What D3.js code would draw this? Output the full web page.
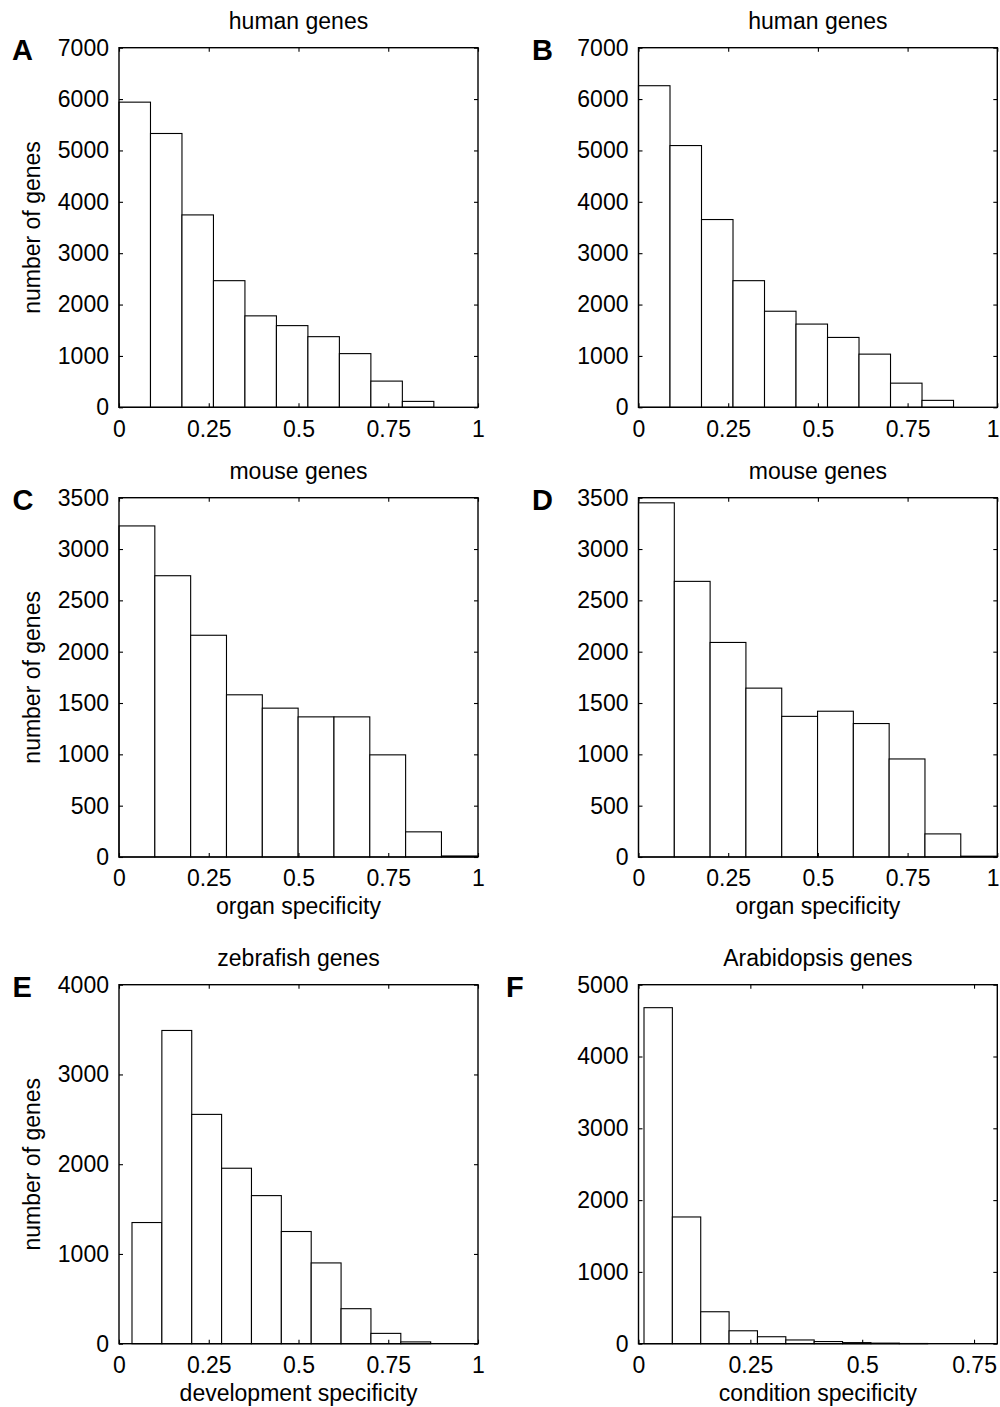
<!DOCTYPE html>
<html>
<head>
<meta charset="utf-8">
<script src="https://cdn.jsdelivr.net/npm/d3@7"></script>
<style>
  html, body { margin: 0; padding: 0; background: #fff; }
  svg text { font-family: "Liberation Sans", Arial, Helvetica, sans-serif; fill: #000; }
</style>
</head>
<body>
<svg id="chart" width="1000" height="1407"></svg>
<script>
// ---------------- data ----------------
const panelLetters = ["A", "B", "C", "D", "E", "F"];
const panelTitles = ["human genes", "human genes", "mouse genes", "mouse genes", "zebrafish genes", "Arabidopsis genes"];
const xAxisTitles = ["", "", "organ specificity", "organ specificity", "development specificity", "condition specificity"];
const yAxisTitles = ["number of genes", "", "number of genes", "", "number of genes", ""];

// histogram counts (10 bins each)
const countsA = [5940, 5330, 3745, 2465, 1780, 1590, 1375, 1045, 510, 115];
const countsB = [6260, 5095, 3655, 2465, 1870, 1620, 1360, 1035, 470, 135];
const countsC = [3225, 2740, 2160, 1580, 1450, 1365, 1365, 995, 245, 10];
const countsD = [3450, 2685, 2090, 1645, 1370, 1420, 1300, 955, 225, 8];
const countsE = [1350, 3490, 2555, 1955, 1650, 1250, 900, 390, 115, 20];
const countsF = [4680, 1765, 445, 180, 97, 52, 30, 15, 8, 3];

// first bin edge and bin width (specificity units)
const binStarts = [0, 0, 0, 0, 0.0362, 0.0123];
const binWidths = [0.0877, 0.0878, 0.0998, 0.0998, 0.0832, 0.0634];

// axis ranges and ticks
const xMaxes = [1, 1, 1, 1, 1, 0.802];
const yMaxes = [7000, 7000, 3500, 3500, 4000, 5000];
const xTicksMain = [0, 0.25, 0.5, 0.75, 1];
const xTicksF = [0, 0.25, 0.5, 0.75];
const yTicksHuman = [0, 1000, 2000, 3000, 4000, 5000, 6000, 7000];
const yTicksMouse = [0, 500, 1000, 1500, 2000, 2500, 3000, 3500];
const yTicksZebra = [0, 1000, 2000, 3000, 4000];
const yTicksArab = [0, 1000, 2000, 3000, 4000, 5000];

const allCounts = [countsA, countsB, countsC, countsD, countsE, countsF];
const allXTicks = [xTicksMain, xTicksMain, xTicksMain, xTicksMain, xTicksMain, xTicksF];
const allYTicks = [yTicksHuman, yTicksHuman, yTicksMouse, yTicksMouse, yTicksZebra, yTicksArab];

// ---------------- layout ----------------
const colX = [[119, 478], [638.5, 997.3]];
const rowY = [[47.7, 407.3], [497.7, 857], [984.7, 1343.7]];
const letterPos = [[12, 60], [532, 60], [12.5, 509.5], [532, 510], [12.5, 997], [506, 997]];
const FONT = 23;
const W = 1000;

const svg = d3.select("#chart");
const fmtX = d => d === 0 ? "0" : d === 1 ? "1" : String(d);

for (let p = 0; p < 6; p++) {
  const col = p % 2, row = Math.floor(p / 2);
  const [x0, x1] = colX[col];
  const [y0, y1] = rowY[row];
  const x = d3.scaleLinear().domain([0, xMaxes[p]]).range([x0, x1]);
  const y = d3.scaleLinear().domain([0, yMaxes[p]]).range([y1, y0]);
  const g = svg.append("g");

  // bars
  const counts = allCounts[p];
  const bins = counts.map((c, i) => ({
    a: binStarts[p] + i * binWidths[p],
    b: binStarts[p] + (i + 1) * binWidths[p],
    c
  }));
  g.selectAll("rect.bar").data(bins).join("rect")
    .attr("class", "bar")
    .attr("x", d => x(d.a))
    .attr("width", d => x(d.b) - x(d.a))
    .attr("y", d => y(d.c))
    .attr("height", d => y(0) - y(d.c))
    .attr("fill", "#fff")
    .attr("stroke", "#000")
    .attr("stroke-width", 1.1);

  // axes (ticks inward on all four sides)
  const tick = 4;
  const left = g.append("g").attr("transform", `translate(${x0},0)`)
    .call(d3.axisLeft(y).tickValues(allYTicks[p]).tickSizeInner(-tick).tickSizeOuter(0).tickPadding(10).tickFormat(d3.format("d")));
  const right = g.append("g").attr("transform", `translate(${x1},0)`)
    .call(d3.axisRight(y).tickValues(allYTicks[p]).tickSizeInner(-tick).tickSizeOuter(0).tickFormat(""));
  const bottom = g.append("g").attr("transform", `translate(0,${y1})`)
    .call(d3.axisBottom(x).tickValues(allXTicks[p]).tickSizeInner(-tick).tickSizeOuter(0).tickPadding(13).tickFormat(fmtX));
  const top = g.append("g").attr("transform", `translate(0,${y0})`)
    .call(d3.axisTop(x).tickValues(allXTicks[p]).tickSizeInner(-tick).tickSizeOuter(0).tickFormat(""));
  [left, right, bottom, top].forEach(a => {
    a.select(".domain").remove();
    a.selectAll("line").attr("stroke", "#000").attr("stroke-width", 1.1);
    a.selectAll("text").style("font-size", FONT + "px").attr("fill", "#000");
  });
  bottom.selectAll("text").attr("dy", "0.71em");
  // keep labels at the right page edge inside the page
  bottom.selectAll(".tick").each(function (d) {
    const t = d3.select(this).select("text");
    const bb = t.node().getBBox();
    const right = x(d) + bb.x + bb.width;
    if (right > W - 1) t.attr("x", -(right - (W - 1)));
  });

  // box
  g.append("rect")
    .attr("x", x0).attr("y", y0)
    .attr("width", x1 - x0).attr("height", y1 - y0)
    .attr("fill", "none").attr("stroke", "#000").attr("stroke-width", 1.4);

  // title
  g.append("text")
    .attr("x", (x0 + x1) / 2).attr("y", y0 - 19)
    .attr("text-anchor", "middle")
    .style("font-size", FONT + "px")
    .text(panelTitles[p]);

  // x axis title
  if (xAxisTitles[p]) {
    g.append("text")
      .attr("x", (x0 + x1) / 2).attr("y", y1 + 57)
      .attr("text-anchor", "middle")
      .style("font-size", FONT + "px")
      .text(xAxisTitles[p]);
  }
  // y axis title
  if (yAxisTitles[p]) {
    g.append("text")
      .attr("transform", `translate(40,${(y0 + y1) / 2}) rotate(-90)`)
      .attr("text-anchor", "middle")
      .style("font-size", FONT + "px")
      .text(yAxisTitles[p]);
  }
  // panel letter
  g.append("text")
    .attr("x", letterPos[p][0]).attr("y", letterPos[p][1])
    .style("font-size", "29px").style("font-weight", "bold")
    .text(panelLetters[p]);
}
</script>
</body>
</html>
